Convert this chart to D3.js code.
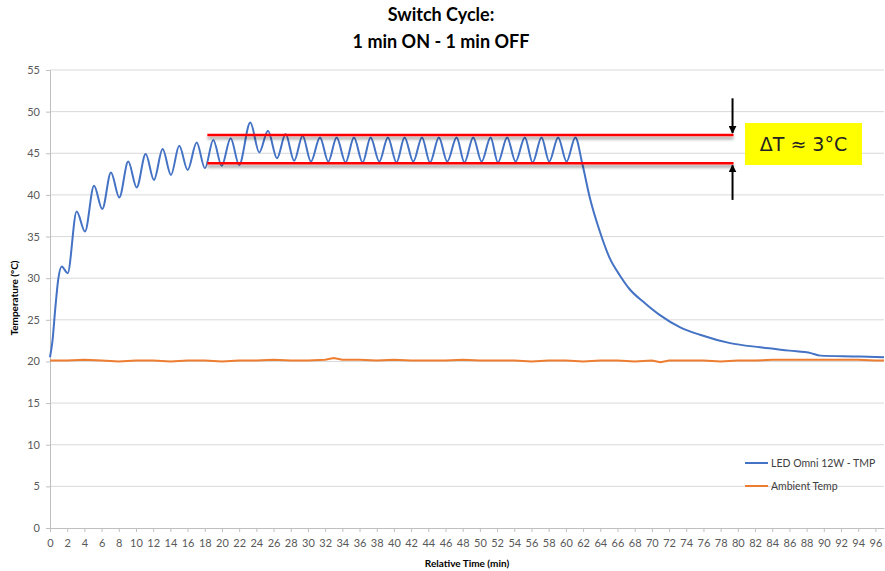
<!DOCTYPE html>
<html>
<head>
<meta charset="utf-8">
<script src="https://cdn.jsdelivr.net/npm/d3@7"></script>
<style>
  html, body { margin: 0; padding: 0; background: #fff; }
  svg { display: block; }
</style>
</head>
<body>
<svg id="chart" width="885" height="571"></svg>
<script>
// ---------- DATA ----------
const titleLines = ["Switch Cycle:", "1 min ON - 1 min OFF"];
const xTicks = d3.range(0, 97, 2);
const yTicks = [0, 5, 10, 15, 20, 25, 30, 35, 40, 45, 50, 55];
const seriesNames = ["LED Omni 12W - TMP", "Ambient Temp"];

// LED lamp temperature (min, °C) read from peaks / troughs / decay
const ledTime = [0, 0.3, 0.6, 0.95, 1.36, 2.05, 3.1, 4.07, 5.12, 6.08, 7.09, 8.06, 9.1, 10.08,
  11.13, 12.09, 13.1, 14.07, 15.03, 16.01, 17.06, 18.02, 18.99, 19.97, 21.01, 22.0,
  23.3, 24.34, 25.35, 26.4, 27.4, 28.4, 29.38, 30.35, 31.4, 32.37, 33.34, 34.38,
  35.35, 36.36, 37.29, 38.3, 39.3, 40.3, 41.24, 42.25, 43.26, 44.2, 45.23, 46.2,
  47.29, 48.2, 49.22, 50.2, 51.24, 52.1, 53.17, 54.15, 55.23, 56.13, 57.17, 58.06,
  59.1, 60.08, 61.1, 61.9, 62.8, 63.95, 65.1, 66.3, 67.4, 69.2, 70.9, 73.3, 75.6,
  79.1, 82.6, 86.0, 88.5, 89.6, 94.2, 97];
const ledTemp = [20.5, 22.6, 26.2, 29.8, 31.4, 30.6, 38.0, 35.6, 41.1, 38.3, 42.7, 39.7, 44.0, 40.9,
  44.9, 41.8, 45.5, 42.4, 45.9, 43.0, 46.3, 43.2, 46.6, 43.5, 46.8, 43.6,
  48.7, 45.1, 47.7, 44.4, 47.3, 44.1, 47.1, 44.0, 46.9, 44.0, 46.9, 43.9,
  46.9, 43.9, 46.9, 44.0, 46.9, 43.9, 46.9, 44.0, 46.9, 43.9, 46.9, 44.0,
  46.9, 43.9, 46.9, 44.0, 46.9, 43.9, 46.9, 44.0, 46.9, 43.9, 46.9, 44.0,
  46.9, 44.0, 46.9, 43.8, 39.6, 35.6, 32.4, 30.3, 28.7, 27.0, 25.6, 24.1, 23.2,
  22.2, 21.7, 21.3, 21.0, 20.7, 20.6, 20.5];

// Ambient temperature (min, °C)
const ambTime = [0, 2, 4, 6, 8, 10, 12, 14, 16, 18, 20, 22, 24, 26, 28, 30, 32, 33, 34, 36,
  38, 40, 42, 44, 46, 48, 50, 52, 54, 56, 58, 60, 62, 64, 66, 68, 70, 71, 72, 74,
  76, 78, 80, 82, 84, 86, 88, 90, 92, 94, 96, 97];
const ambTemp = [20.1, 20.1, 20.2, 20.1, 20.0, 20.1, 20.1, 20.0, 20.1, 20.1, 20.0, 20.1, 20.1, 20.2, 20.1, 20.1, 20.2, 20.4, 20.2, 20.2,
  20.1, 20.2, 20.1, 20.1, 20.1, 20.2, 20.1, 20.1, 20.1, 20.0, 20.1, 20.1, 20.0, 20.1, 20.1, 20.0, 20.1, 19.9, 20.1, 20.1,
  20.1, 20.0, 20.1, 20.1, 20.2, 20.2, 20.2, 20.2, 20.2, 20.2, 20.1, 20.1];

// Annotation values
const bandLevels = [47.2, 43.8];
const bandRange = [18.3, 79.5];
const arrowTails = [51.6, 39.4];
const deltaLabel = "ΔT ≈ 3°C";

// ---------- DRAW ----------
const svg = d3.select("#chart");
const x = d3.scaleLinear().domain([0, 97]).range([50, 884]);
const y = d3.scaleLinear().domain([0, 55]).range([528, 70]);
const colors = ["#4472C4", "#ED7D31"];
const tickFont = "Lato, 'Open Sans', sans-serif";

const defs = svg.append("defs");
const sh = defs.append("filter").attr("id", "shadow").attr("filterUnits", "userSpaceOnUse")
  .attr("x", 0).attr("y", 0).attr("width", 885).attr("height", 571);
sh.append("feDropShadow").attr("dx", 0).attr("dy", 3).attr("stdDeviation", 1.6).attr("flood-color", "#000").attr("flood-opacity", 0.4);
defs.append("marker").attr("id", "arrow").attr("viewBox", "0 0 10 10").attr("refX", 9).attr("refY", 5)
  .attr("markerWidth", 4).attr("markerHeight", 4).attr("markerUnits", "strokeWidth").attr("orient", "auto")
  .append("path").attr("d", "M0,0 L10,5 L0,10 z").attr("fill", "#000");

// gridlines
svg.append("g").selectAll("line").data(yTicks.filter(v => v > 0)).join("line")
  .attr("x1", x(0)).attr("x2", x(97)).attr("y1", d => y(d)).attr("y2", d => y(d))
  .attr("stroke", "#d9d9d9").attr("stroke-width", 1);

// y axis
const yAxis = svg.append("g").attr("transform", `translate(${x(0)},0)`)
  .call(d3.axisLeft(y).tickValues(yTicks).tickSize(4).tickPadding(6));
yAxis.select(".domain").attr("stroke", "#bfbfbf");
yAxis.selectAll(".tick line").attr("stroke", "#bfbfbf");
yAxis.selectAll("text").attr("font-family", tickFont).attr("font-size", 11).attr("fill", "#595959");

// x axis
const xAxis = svg.append("g").attr("transform", `translate(0,${y(0)})`)
  .call(d3.axisBottom(x).tickValues(xTicks).tickSize(4).tickPadding(7).tickSizeOuter(0));
xAxis.select(".domain").attr("stroke", "#bfbfbf");
xAxis.selectAll(".tick line").attr("stroke", "#bfbfbf");
xAxis.selectAll("text").attr("font-family", tickFont).attr("font-size", 11).attr("fill", "#595959");

// series
const line = d3.line().x(d => x(d[0])).y(d => y(d[1])).curve(d3.curveMonotoneX);
const ambLine = d3.line().x(d => x(d[0])).y(d => y(d[1]));
svg.append("path").datum(d3.zip(ambTime, ambTemp)).attr("d", ambLine)
  .attr("fill", "none").attr("stroke", colors[1]).attr("stroke-width", 2);
svg.append("path").datum(d3.zip(ledTime, ledTemp)).attr("d", line)
  .attr("fill", "none").attr("stroke", colors[0]).attr("stroke-width", 2);

// red band lines
svg.append("g").attr("filter", "url(#shadow)").selectAll("line").data(bandLevels).join("line")
  .attr("x1", x(bandRange[0])).attr("x2", x(bandRange[1]))
  .attr("y1", d => y(d)).attr("y2", d => y(d))
  .attr("stroke", "#ff0000").attr("stroke-width", 2.5);

// arrows
svg.append("g").selectAll("line").data(d3.zip(arrowTails, bandLevels)).join("line")
  .attr("x1", x(bandRange[1]) - 1).attr("x2", x(bandRange[1]) - 1)
  .attr("y1", d => y(d[0])).attr("y2", d => y(d[1]) + (d[0] > d[1] ? -2 : 2))
  .attr("stroke", "#000").attr("stroke-width", 2).attr("marker-end", "url(#arrow)");

// yellow label
const bx0 = 745, bx1 = 862, by0 = 123, by1 = 165;
svg.append("rect").attr("x", bx0).attr("y", by0).attr("width", bx1 - bx0).attr("height", by1 - by0).attr("fill", "#ffff00");
svg.append("text").attr("x", (bx0 + bx1) / 2).attr("y", (by0 + by1) / 2 + 7).attr("text-anchor", "middle")
  .attr("font-family", "'DejaVu Sans', sans-serif").attr("font-size", 19).attr("fill", "#222").text(deltaLabel);

// title
svg.append("g").selectAll("text").data(titleLines).join("text")
  .attr("x", 441).attr("y", (d, i) => 21 + i * 27).attr("text-anchor", "middle")
  .attr("font-family", "Lato, sans-serif").attr("font-weight", "bold").attr("font-size", 18).attr("fill", "#000")
  .text(d => d);

// axis titles
svg.append("text").attr("transform", "translate(18,298) rotate(-90)").attr("text-anchor", "middle")
  .attr("font-family", "Lato, sans-serif").attr("font-weight", "bold").attr("font-size", 10).attr("fill", "#000")
  .text("Temperature (°C)");
svg.append("text").attr("x", 467).attr("y", 567).attr("text-anchor", "middle")
  .attr("font-family", "Lato, sans-serif").attr("font-weight", "bold").attr("font-size", 10).attr("fill", "#000")
  .text("Relative Time (min)");

// legend
const lg = svg.append("g").selectAll("g").data(seriesNames).join("g")
  .attr("transform", (d, i) => `translate(745,${463 + i * 23})`);
lg.append("line").attr("x1", 0).attr("x2", 23).attr("y1", 0).attr("y2", 0)
  .attr("stroke", (d, i) => colors[i]).attr("stroke-width", 2);
lg.append("text").attr("x", 26).attr("y", 4).attr("font-family", tickFont).attr("font-size", 10.5).attr("fill", "#404040").text(d => d);
</script>
</body>
</html>
